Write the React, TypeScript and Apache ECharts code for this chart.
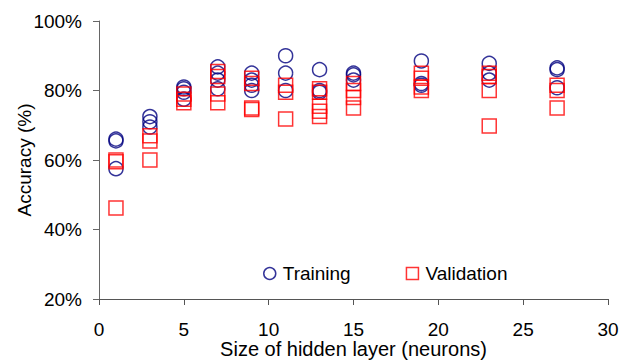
import React, { useEffect, useRef } from "react";
import * as echarts from "echarts";

const xTicks = [0, 5, 10, 15, 20, 25, 30];
const yTicks = [20, 40, 60, 80, 100];

const trainingX = [1, 1, 1, 3, 3, 3, 5, 5, 5, 5, 7, 7, 7, 7, 9, 9, 9, 9, 11, 11, 11, 13, 13, 13, 15, 15, 15, 19, 19, 19, 23, 23, 23, 27, 27, 27];
const trainingY = [66.0, 65.5, 57.5, 72.5, 71.0, 69.5, 81.0, 80.5, 79.5, 77.5, 86.8, 85.0, 83.0, 80.5, 85.0, 83.0, 81.5, 80.0, 90.0, 85.0, 80.0, 86.0, 80.0, 79.5, 85.0, 84.5, 83.0, 88.5, 82.0, 81.5, 87.8, 85.0, 83.0, 86.5, 86.0, 80.8];

const validationX = [1, 1, 1, 3, 3, 3, 5, 5, 5, 7, 7, 7, 7, 9, 9, 9, 9, 11, 11, 11, 13, 13, 13, 13, 13, 15, 15, 15, 15, 19, 19, 19, 19, 23, 23, 23, 23, 27, 27, 27];
const validationY = [60.0, 59.5, 46.2, 67.0, 65.5, 60.0, 79.0, 77.5, 76.5, 85.5, 84.0, 79.0, 76.5, 83.5, 82.0, 75.0, 74.5, 81.5, 79.5, 71.8, 80.5, 79.5, 75.5, 74.0, 72.5, 82.0, 80.0, 78.0, 75.0, 85.0, 83.5, 81.0, 80.0, 85.0, 84.0, 80.0, 69.8, 81.5, 80.0, 75.0];

const pairs = (xs: number[], ys: number[]) => xs.map((x, i) => [x, ys[i]]);

export default function App() {
  const ref = useRef<HTMLDivElement>(null);
  useEffect(() => {
    if (!ref.current) return;
    const chart = echarts.init(ref.current, null, { renderer: "svg" });
    const font = "Liberation Sans, Arial, sans-serif";
    chart.setOption({
      animation: false,
      backgroundColor: "#ffffff",
      textStyle: { fontFamily: font },
      grid: { left: 99, right: 26, top: 21, bottom: 62, containLabel: false, outerBoundsMode: "none" },
      legend: {
        left: 258,
        top: 259,
        itemWidth: 12,
        itemHeight: 12,
        itemGap: 55,
        textStyle: { fontSize: 19, color: "#000", fontFamily: font, padding: [0, 0, 4, 2] },
        data: [
          { name: "Training", icon: "circle", itemStyle: { color: "#fff", borderColor: "#000080", borderWidth: 1.5 } },
          { name: "Validation", icon: "rect", itemStyle: { color: "#fff", borderColor: "#ff0000", borderWidth: 1.5 } },
        ],
      },
      xAxis: {
        type: "value",
        min: xTicks[0],
        max: xTicks[xTicks.length - 1],
        interval: 5,
        name: "Size of hidden layer (neurons)",
        nameLocation: "middle",
        nameGap: 40,
        nameMoveOverlap: false,
        nameTextStyle: { fontSize: 20, color: "#000", fontFamily: font },
        axisLine: { lineStyle: { color: "#555", width: 1 } },
        axisTick: { show: true, length: 6, lineStyle: { color: "#555" } },
        axisLabel: { fontSize: 19, color: "#000", margin: 21, fontFamily: font },
        splitLine: { show: false },
      },
      yAxis: {
        type: "value",
        min: yTicks[0],
        max: yTicks[yTicks.length - 1],
        interval: 20,
        name: "Accuracy (%)",
        nameLocation: "middle",
        nameGap: 65,
        nameMoveOverlap: false,
        nameRotate: 90,
        nameTextStyle: { fontSize: 19, color: "#000", fontFamily: font },
        axisLine: { show: true, lineStyle: { color: "#666", width: 1 } },
        axisTick: { show: true, length: 6, lineStyle: { color: "#666" } },
        axisLabel: { fontSize: 19, color: "#000", margin: 17, formatter: "{value}%", fontFamily: font },
        splitLine: { show: false },
      },
      series: [
        {
          name: "Training",
          type: "scatter",
          symbol: "circle",
          symbolSize: 14,
          itemStyle: { color: "rgba(0,0,0,0)", borderColor: "#000080", borderWidth: 1.5 },
          data: pairs(trainingX, trainingY),
          z: 2,
        },
        {
          name: "Validation",
          type: "scatter",
          symbol: "rect",
          symbolSize: 14,
          itemStyle: { color: "rgba(0,0,0,0)", borderColor: "#ff0000", borderWidth: 1.5 },
          data: pairs(validationX, validationY),
          z: 3,
        },
      ],
    });
    return () => chart.dispose();
  }, []);
  return <div ref={ref} style={{ width: 634, height: 361, position: "absolute", left: 0, top: 0 }} />;
}
